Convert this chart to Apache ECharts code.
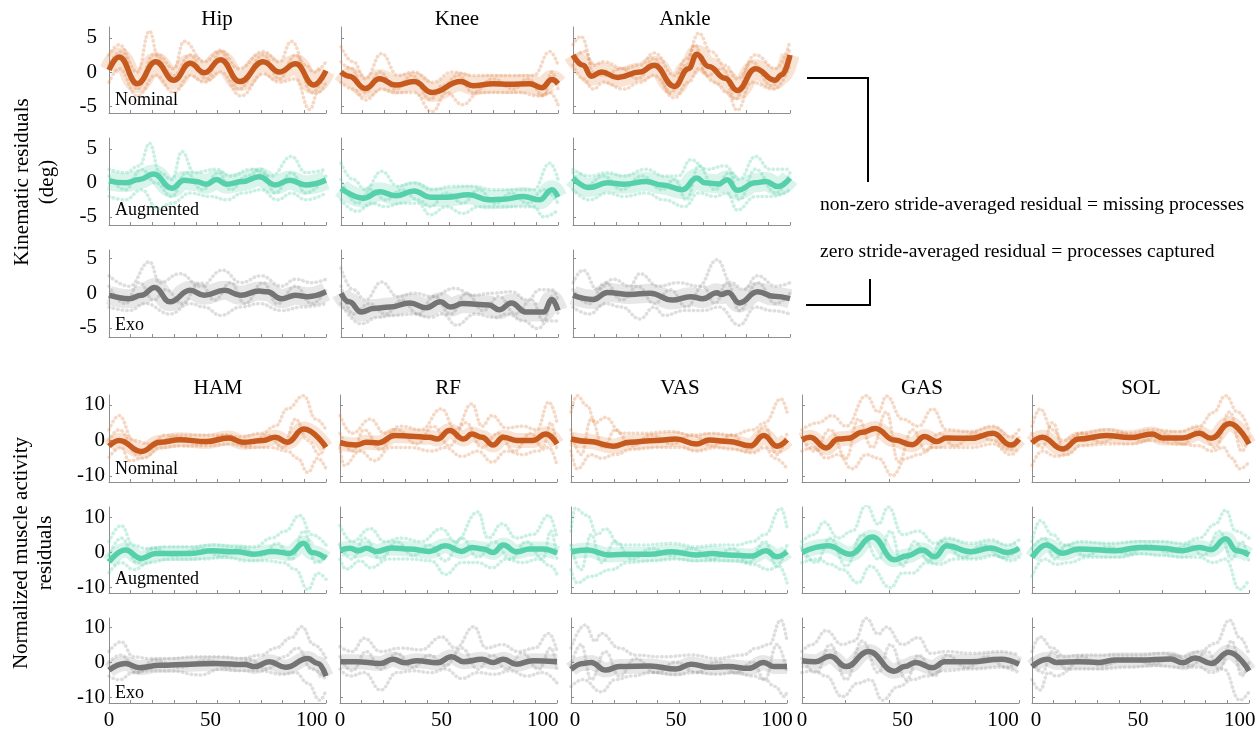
<!DOCTYPE html>
<html>
<head>
<meta charset="utf-8">
<script src="https://cdn.jsdelivr.net/npm/echarts@6/dist/echarts.min.js"></script>
<style>
  html, body { margin: 0; padding: 0; background: #fff; }
  #chart { width: 1260px; height: 731px; }
</style>
</head>
<body>
<div id="chart"></div>
<script>
// ---- categories and tick labels ----
const JOINTS = ['Hip', 'Knee', 'Ankle'];
const MUSCLES = ['HAM', 'RF', 'VAS', 'GAS', 'SOL'];
const MODELS = ['Nominal', 'Augmented', 'Exo'];
const X_TICK_LABELS = [0, 50, 100];
const KIN_Y_TICK_LABELS = [-5, 0, 5];
const EMG_Y_TICK_LABELS = [-10, 0, 10];

// ---- kinematic residuals (deg), x = % gait cycle ----
// stride-averaged residual: [x, y] at turning points
const hipNomMean = [[0,0.3],[5,2.2],[14,-1.7],[23,1.5],[32,-1.2],[40,1.3],[47,-0.1],[55,1.8],[64.5,-1.4],[76,1.5],[84,0],[92,1.2],[101,-1.9],[107,0.2]];
const hipNomStrides = [
  [[0,2.5],[5,4],[14,0],[20,6],[24,2.5],[32,0.5],[37,4.5],[47,1.5],[55,3.2],[64,0.5],[76,3],[84,1.5],[90,4.5],[97,1],[101,0],[107,1.5]],
  [[0,-1.5],[5,0.5],[14,-3.5],[23,-0.5],[32,-3],[40,-0.5],[47,-1.5],[55,0],[65,-3.5],[76,-0.3],[84,-1.5],[92,-1],[99,-5.5],[103,-3],[107,-1.5]],
  [[0,1],[6,3],[14,-2.5],[22,2.5],[32,-0.5],[40,2.5],[48,-1],[55,3],[64,-2.5],[76,2.5],[84,-1],[92,2.5],[100,-3],[107,0]]
];
const hipAugMean = [[0,0.3],[8,0],[15,0.5],[22,1.3],[31,-0.8],[37,0.4],[43,0.2],[48,-0.2],[53,0.5],[58,-0.2],[66,0.2],[74,0.9],[82,-0.3],[89,0.4],[97,-0.3],[107,0.4]];
const hipAugStrides = [
  [[0,2],[8,1.5],[15,2.5],[20,5.8],[25,1.5],[31,0.5],[36,4.6],[42,1.5],[53,2],[60,1],[70,2],[80,1],[90,3.9],[97,1.5],[107,2]],
  [[0,-2],[8,-2.5],[16,-1],[24,-3.8],[31,-3],[40,-1.5],[50,-2],[58,-2.5],[66,-1.5],[75,-1],[83,-2.5],[90,-1.5],[97,-2.5],[107,-1.5]],
  [[0,1],[8,-1],[16,2],[23,0],[31,-2],[38,1.5],[46,-1],[54,1.5],[60,-1],[68,1],[75,2],[82,-1.5],[90,1.5],[97,-1.5],[107,1]]
];
const hipExoMean = [[0,-0.3],[10,-0.8],[16,-0.3],[22.5,0.8],[30,-1.25],[40,0.4],[47,-0.3],[57,0.4],[65,-0.3],[74,0.3],[78,0.2],[85,-0.8],[92,-0.3],[98,-0.5],[107,0.2]];
const hipExoStrides = [
  [[0,2.5],[10,1],[20,4.5],[25,1.5],[35,2.8],[45,1],[56,3.3],[65,1.5],[75,2.5],[85,1],[92,2],[100,1.5],[107,2]],
  [[0,-2],[10,-2.5],[18,-1.5],[30,-3],[40,-1.5],[47,-2],[55,-3.2],[65,-2],[74,-1.5],[85,-2.5],[95,-2],[107,-1.5]],
  [[0,1],[8,-1.5],[15,1.5],[22,-1],[28,0.5],[36,-1.5],[45,1.5],[52,-1],[60,1.5],[67,-1.5],[76,1.5],[83,-1.5],[92,1],[100,-1.5],[107,0.5]]
];

const kneeNomMean = [[0,0],[4,-0.6],[12,-2.4],[19,-1.0],[27,-1.9],[36,-1.4],[45,-3.0],[59,-1.4],[65,-2.0],[75,-1.7],[83,-1.8],[93,-1.7],[99,-2.3],[104,-1.1],[107,-1.7]];
const kneeNomStrides = [
  [[0,3.7],[6,1.5],[12,-1],[20,2.7],[28,-0.5],[36,0],[45,-1.5],[55,0],[65,-0.5],[75,-0.5],[85,-0.5],[95,-0.5],[103,3],[107,1]],
  [[0,-1.5],[6,-2.5],[12,-4.1],[20,-2.5],[28,-3],[36,-3],[45,-5.8],[52,-3],[60,-4.8],[68,-3],[78,-3],[88,-3],[97,-3.5],[103,-3],[107,-4.8]],
  [[0,1.5],[5,0.5],[12,-3],[19,0],[27,-2.5],[35,-0.5],[44,-4],[50,-2],[58,-0.5],[65,-3],[75,-1],[85,-2.5],[92,-1],[100,-3.5],[104,0],[107,-2.5]]
];
const kneeAugMean = [[0,-0.8],[11,-2.25],[19,-1.3],[27,-1.9],[36,-1.2],[44,-2.1],[52,-2.1],[63,-1.75],[73,-2.5],[80,-2.4],[90,-2.0],[98,-2.5],[104,-1.0],[107,-2.1]];
const kneeAugStrides = [
  [[0,2.9],[6,0.5],[12,-1],[20,1.7],[28,-0.5],[36,0],[45,-1],[55,-0.5],[65,-0.5],[75,-1],[85,-1],[95,-1],[103,2.9],[107,0.5]],
  [[0,-2.5],[8,-4.2],[15,-3],[22,-3.5],[30,-3],[38,-3],[44,-4.7],[52,-3.5],[60,-4.5],[68,-3.5],[78,-3.5],[88,-3.5],[95,-3.5],[100,-5],[107,-4]],
  [[0,0.5],[8,-3],[15,-1],[22,-2.5],[30,-1],[38,-2.5],[44,-3.5],[52,-1.5],[60,-3],[68,-1],[76,-3],[84,-1.5],[92,-3],[100,-1],[107,-3]]
];
const kneeExoMean = [[0,0],[4,-1.25],[10,-2.7],[16,-2.2],[24,-2.0],[34,-1.4],[42,-2.1],[49,-1.25],[54,-2.0],[60,-1.5],[73,-1.7],[78,-2.4],[84,-1.4],[91,-2.7],[100,-2.7],[104,-0.9],[107,-2.5]];
const kneeExoStrides = [
  [[0,3.6],[6,0.5],[12,-1],[20,1.6],[28,-0.5],[36,0],[45,-0.5],[56,0.7],[65,-0.3],[75,0],[84,0.2],[92,-1],[98,0.5],[104,0.5],[107,-1]],
  [[0,-1.5],[10,-4.4],[18,-3.5],[26,-3.2],[36,-3],[44,-3.5],[50,-3],[57,-4.6],[66,-3],[76,-3.5],[82,-3],[90,-4],[97,-5.1],[102,-4],[107,-4]],
  [[0,1],[6,-3],[14,-1.5],[22,-3],[30,-1],[38,-3],[46,-0.5],[54,-3],[62,0],[70,-2.5],[78,-0.5],[86,-3],[94,-1],[100,-4],[104,-0.5],[107,-3]]
];

const ankleNomMean = [[0,2.5],[5,1.0],[9,-0.6],[14,0],[22,-0.8],[33,0],[40,1.0],[50,-2.1],[57,0.5],[61,2.6],[67,0.8],[75,-0.9],[81,-2.7],[90,0.5],[99.5,-1.2],[103,-0.4],[107,2.5]];
const ankleNomStrides = [
  [[0,4],[4,5.2],[10,1],[15,1.5],[25,0.5],[33,1],[40,2.8],[50,-0.5],[56,2],[62,5.7],[68,3],[75,1],[81,-1],[90,2.5],[100,0.5],[107,4.5]],
  [[0,1],[5,-1],[10,-2.5],[15,-1.5],[25,-2.5],[33,-1.5],[40,-0.5],[50,-3.8],[57,-1.5],[62,0.5],[70,-1.5],[76,-3],[81,-5.6],[88,-1.5],[99,-2.5],[107,1]],
  [[0,2],[6,3],[10,0],[15,-0.5],[24,0.5],[32,-1],[40,2],[48,-3],[56,1],[60,4],[66,-0.5],[74,0.5],[80,-4],[88,1.5],[98,-2],[107,3.5]]
];
const ankleAugMean = [[0,0.7],[8,-0.7],[17,0],[25,-0.2],[36,0.2],[44,-0.3],[54,-1.0],[61,0.7],[65,0],[72,-0.15],[76,0.45],[81,-1.1],[90,0],[95,0.2],[101,-0.55],[107,0.7]];
const ankleAugStrides = [
  [[0,2],[8,1],[17,1.5],[25,1],[36,2],[45,1],[52,1],[58,3.4],[66,2],[75,2.5],[82,0.5],[90,3.9],[97,2],[107,2]],
  [[0,-1],[8,-2.5],[17,-1.5],[25,-2],[36,-1.5],[45,-2.5],[55,-3.5],[62,-1.5],[70,-2],[76,-1.5],[81,-4],[90,-2],[98,-2],[107,-1]],
  [[0,1.5],[6,-0.5],[15,1],[24,-1],[34,1],[44,-1],[50,0.5],[56,-2.5],[62,2.5],[70,-1],[77,1.5],[82,-2.5],[90,2],[100,-1.5],[107,1.5]]
];
const ankleExoMean = [[0,-0.3],[10,-0.9],[17,0.1],[28,-0.2],[38,0],[49,-1.0],[58,-0.5],[64,-0.8],[71,0.05],[73,-0.2],[76.5,0.1],[82,-1.4],[91,0.2],[99,-0.45],[107,-0.8]];
const ankleExoStrides = [
  [[0,1.5],[5,3.3],[12,0.5],[20,2],[28,1],[33,2.8],[42,1],[52,1.5],[62,1],[71,4.8],[78,1.5],[84,0.5],[91,2.5],[100,1],[107,1.5]],
  [[0,-2],[8,-3],[16,-1.5],[24,-2],[33,-3.7],[40,-2],[45,-3.2],[55,-2.5],[64,-2.5],[72,-2],[82,-4.6],[90,-2],[98,-2.5],[107,-3]],
  [[0,0.5],[8,-1.5],[16,1.5],[24,-1],[32,1],[40,-1.5],[48,0.5],[56,-2],[64,1],[70,-1.5],[76,1.5],[82,-2.5],[91,1.5],[100,-1.5],[107,0]]
];

// ---- normalized muscle activity residuals ----
const hamNomMean = [[0,-1.6],[5,0],[16,-3.1],[25,-0.5],[35,0.2],[48,-0.3],[59,0.7],[66,-0.5],[76,0],[82,0.9],[88,-0.5],[96,3.2],[107,-1.9]];
const hamNomStrides = [
  [[0,3],[5,7],[12,0],[20,-1],[28,1.5],[40,1.5],[55,1.5],[65,1],[75,2],[82,4],[88,8.9],[96,12.6],[102,6],[107,3]],
  [[0,-4.7],[6,-2],[10,-5.7],[17,-5],[25,-2],[35,-1.5],[48,-1.5],[60,-1],[70,-2],[80,-2],[88,-3],[93,-5],[98,-9],[103,-5],[107,-8]],
  [[0,0],[5,3],[14,-4],[22,-1.5],[32,1],[45,-1],[58,1.5],[68,-1.5],[78,1.5],[86,-2],[92,6],[98,0],[104,-4],[107,0]]
];
const hamAugMean = [[0,-2.8],[8,0.6],[16,-1.8],[23,-0.4],[40,-0.4],[51,0.4],[63,0.1],[71,-0.6],[81,0.2],[89,-0.4],[96,2.5],[100,-0.1],[107,-1.8]];
const hamAugStrides = [
  [[0,3],[6,7.6],[12,2],[18,1],[28,1.5],[40,1.5],[52,2],[62,1.5],[72,1.5],[80,4],[87,6],[94,10.5],[100,5],[107,2]],
  [[0,-5.9],[6,-3],[12,-5],[20,-3],[30,-2],[45,-2],[58,-1.5],[68,-2.5],[78,-2.5],[86,-3],[92,-5],[98,-10.7],[103,-6],[107,-7.8]],
  [[0,-1],[6,4],[14,-3],[22,1],[32,-1],[45,1],[55,-1],[65,1],[75,-1],[83,2.5],[90,-2],[96,6],[102,-3],[107,-1]]
];
const hamExoMean = [[0,-2.3],[8,-0.4],[15,-1.6],[25,-0.9],[40,-0.6],[53,-0.4],[67,-0.7],[72,-1.3],[79,0.1],[87,-1.5],[98,1.0],[103,-0.4],[107,-4.0]];
const hamExoStrides = [
  [[0,3],[6,5.8],[12,1.5],[20,1],[30,1],[42,1.5],[55,1.5],[65,1],[75,2],[82,4],[90,7],[95,10.1],[101,5],[107,1]],
  [[0,-4],[5,-5.1],[12,-3],[20,-2.5],[30,-2.5],[45,-3.7],[55,-2],[65,-2.5],[75,-2.5],[85,-3.5],[92,-3],[98,-6],[104,-10.9],[107,-8]],
  [[0,0],[6,2],[14,-3],[22,0.5],[35,-1.5],[48,0.5],[60,-1.5],[70,0.5],[78,-2],[86,1.5],[93,4],[100,-2],[107,-5]]
];

const rfNomMean = [[0,-0.7],[8,-1.3],[13,-0.5],[19,-0.7],[27,1.4],[35,1.2],[44,0.9],[48,0.4],[54,2.8],[61,0.4],[65,1.8],[70,0.9],[75.5,-1.3],[80.5,0.9],[87,0],[95,0],[101.5,1.8],[107,-1.0]];
const rfNomStrides = [
  [[0,7],[6,2],[15,6],[22,2],[30,4],[40,3],[50,8.9],[57,3],[65,10.3],[70,4],[75,7],[82,3.5],[90,4],[97,3],[103,10.8],[107,5]],
  [[0,-2],[2,-7],[10,-3],[17,-5.7],[25,-2],[35,-2],[45,-3],[52,-2],[60,-4.5],[68,-3],[75,-6.1],[82,-3],[90,-4],[97,-3],[103,-2],[107,-7]],
  [[0,2],[6,-3],[12,3],[20,-2.5],[28,3],[38,-1],[46,4],[54,-1.5],[62,5],[70,-2],[78,2],[86,-3],[94,2],[100,-2],[104,5],[107,-3]]
];
const rfAugMean = [[0,0.6],[5,1.1],[9,0.4],[13,1.1],[18,0.2],[25.5,1.2],[34.5,0.9],[44,0.2],[52,1.8],[60,0.2],[65,1.35],[70.5,0.9],[75.5,-0.1],[80.5,2.0],[87,0.1],[93.5,0.9],[100,0.9],[107,-0.3]];
const rfAugStrides = [
  [[0,7.6],[6,3],[15,6.7],[22,3],[30,4],[40,3],[50,6.7],[57,3],[68,11.5],[73,4],[80,8.1],[87,4],[95,5],[103,10.5],[107,4]],
  [[0,-2],[3,-4.9],[10,-2.5],[15,-4.5],[24,-2],[35,-2],[45,-2.5],[52,-6.4],[60,-3],[68,-3],[75,-4.5],[82,-2],[90,-3],[98,-2],[104,-4],[107,-6.4]],
  [[0,2],[6,-2],[12,4],[20,-2],[28,3],[36,-1],[44,2],[52,-2.5],[60,4],[68,-1.5],[76,3],[84,-2],[92,3],[100,-2],[104,6],[107,-2]]
];
const rfExoMean = [[0,0.1],[8,0.1],[20,-0.4],[26,0.8],[32,-0.2],[38,0.4],[48,-0.2],[55,1.5],[61,0.1],[70,0.8],[75.5,-0.1],[80.5,0.8],[87,-0.6],[95,0.4],[107,0.1]];
const rfExoStrides = [
  [[0,4.4],[6,3],[12,6.8],[20,3],[30,4],[40,3.5],[50,7.2],[57,4],[66,10.1],[72,4],[80,5],[88,3],[96,4],[103,8.2],[107,3]],
  [[0,-2],[5,-4],[12,-3],[20,-8],[28,-3],[36,-2.5],[45,-3],[52,-2],[60,-4.7],[68,-3],[76,-3.5],[84,-2.5],[92,-4],[100,-3],[107,-6]],
  [[0,1.5],[6,-2.5],[13,3],[20,-2],[28,2.5],[36,-1.5],[44,2],[52,-1],[60,4],[68,-2],[75,2],[82,-2],[90,2.5],[98,-2],[104,4],[107,-2]]
];

const vasNomMean = [[-2,0.4],[7,-0.3],[19,-1.6],[27,-0.5],[40,0],[50,0.4],[60,-1.0],[66.5,0.1],[76,-0.3],[87,-1.5],[93.5,1.4],[100,-1.6],[105,0.2]];
const vasNomStrides = [
  [[-2,8],[1,12.6],[6,9.8],[10,5],[15,6.5],[23,2],[33,2],[48,2.5],[58,1.5],[68,2],[78,1.5],[88,3],[94,5],[102,11.7],[105,8]],
  [[-2,-3],[1,-8],[8,-4],[13,-5],[20,-4],[28,-2.5],[40,-2],[53,-2],[60,-3],[70,-2],[78,-2.5],[88,-3.5],[94,-2],[99,-5],[105,-8]],
  [[-2,3],[3,-4],[8,6],[14,-2],[20,3],[28,-1.5],[38,1.5],[48,-1],[58,1.5],[68,-1.5],[78,1.5],[86,-2.5],[94,4],[100,-4],[105,2]]
];
const vasAugMean = [[-2,0.1],[6,0.6],[17,-0.8],[27,-0.6],[37,-0.6],[48,0.1],[60,-0.8],[68,-0.4],[76,-0.8],[88,-1.1],[94.5,0.4],[100,-1.3],[105,0.1]];
const vasAugStrides = [
  [[-2,6],[0,12.5],[6,10.5],[11,5],[15,6.7],[22,2],[33,2],[48,2.5],[60,1.5],[70,2],[80,2],[88,3],[94,5],[102,12.5],[105,7]],
  [[-2,-5],[1,-8.8],[8,-6.9],[18,-5],[26,-3],[38,-2.5],[50,-2],[60,-2.5],[70,-2.5],[80,-2.5],[88,-3.5],[96,-5],[101,-4],[105,-8.8]],
  [[-2,2],[3,-5],[8,5],[13,-3],[20,3],[28,-2],[38,1],[48,-1],[58,1],[68,-2],[78,1],[86,-3],[94,3],[100,-4],[105,2]]
];
const vasExoMean = [[-2,-2.1],[4,-0.4],[8,-0.1],[15,-2.3],[22,-1.3],[37,-1.1],[50,-2],[57.5,-0.6],[66.5,-1.5],[76,-1.3],[86,-1.8],[93.5,-0.1],[98.5,-1.3],[105,-1.3]];
const vasExoStrides = [
  [[-2,4],[5,10.6],[10,6],[13,8.2],[22,4],[30,2],[43,1.5],[58,2],[70,1],[83,2],[90,4],[96,5],[102,12],[105,6]],
  [[-2,-7],[4,-5],[13,-8.5],[20,-5],[28,-4],[38,-3],[50,-3.5],[60,-3],[70,-3.5],[80,-3],[88,-4],[94,-5],[99,-7],[104,-9.9],[105,-8]],
  [[-2,-1],[3,5],[8,-5],[15,3],[22,-4],[30,1],[40,-3],[50,0],[60,-3],[70,0],[80,-3],[88,0],[94,-5],[100,5],[105,-3]]
];

const gasNomMean = [[0,0.2],[4,0.9],[12,-2.1],[18,0.4],[23,0.6],[30,2.3],[36.5,3.4],[46,0.1],[55,-1.2],[61,1.1],[67,-0.3],[72,0.7],[84,0.6],[95,2.0],[104,-1.3],[108,0.4]];
const gasNomStrides = [
  [[0,3],[8,5],[15,7],[22,4],[32,12.6],[38,8],[42,12.5],[50,6],[58,4],[65,8.9],[72,3],[84,2.5],[95,4],[104,1],[108,3]],
  [[0,-3],[6,-2],[12,-5],[18,-4],[25,-8],[32,-4],[38,-5],[45,-9.9],[52,-5],[58,-4],[65,-2],[72,-2],[84,-2],[95,-1],[104,-4],[108,-2]],
  [[0,1],[6,-3],[14,3],[22,-5],[28,6],[35,-2],[42,8],[48,-6],[55,3],[62,-3],[68,2],[76,-1.5],[86,2],[95,0],[104,-2.5],[108,1]]
];
const gasAugMean = [[0,-0.1],[13,1.8],[24,-0.6],[35,4.3],[46,-2.2],[52,-1.1],[60,0.6],[66,-1.35],[72,1.8],[84,0.1],[94,1.2],[102,-0.1],[108,1.1]];
const gasAugStrides = [
  [[0,3],[6,5],[11,8.6],[18,4],[25,6],[32,13.4],[38,8],[43,12.9],[50,5],[58,6],[66,2.5],[72,4],[84,2.5],[94,3.5],[102,2],[108,3.5]],
  [[0,-3],[8,-2],[14,-3.5],[20,-5],[28,-8.8],[34,-4],[44,-10.2],[50,-6],[55,-6],[62,-3],[68,-3.5],[76,-2],[86,-2],[96,-1],[104,-2.5],[108,-1.5]],
  [[0,1],[7,-3],[14,4],[22,-4],[30,5],[38,-2],[44,6],[50,-4],[56,3],[63,-2.5],[70,3],[80,-1.5],[90,2],[100,-1.5],[108,1]]
];
const gasExoMean = [[0,0.4],[6.5,0.1],[14,1.7],[22,-1.3],[33,3.0],[46,-2.6],[51,-1.3],[56.5,-0.1],[65,-1.6],[71,0.1],[84,0.1],[99,0.8],[108,-0.6]];
const gasExoStrides = [
  [[0,3],[5,5],[12,9],[20,5],[26,6],[32,12.5],[38,8],[42,10],[50,5],[58,7],[64,2.5],[72,3],[84,2.5],[99,3],[108,2]],
  [[0,-3],[6,-2.5],[12,-4],[20,-9.9],[28,-6],[34,-5],[40,-10.9],[48,-7],[55,-5],[62,-4],[70,-2.5],[84,-2],[99,-1.5],[108,-3]],
  [[0,1],[7,-3],[14,5],[22,-5],[30,6],[38,-3],[44,5],[52,-5],[58,2],[66,-4],[72,2],[82,-1.5],[92,1.5],[102,-1.5],[108,0.5]]
];

const solNomMean = [[-2,-0.7],[3,0.9],[13,-2.4],[21,0.4],[34.5,1.4],[46,0.8],[57,1.8],[62,0.7],[72,0.7],[80,2.0],[86,0.6],[95,4.8],[104.5,-1.0]];
const solNomStrides = [
  [[-2,4],[2,8.9],[8,3],[13,0],[22,2],[35,3],[46,2],[57,3],[70,2.5],[80,4],[87,7.9],[93,12.6],[99,8],[104.5,3]],
  [[-2,-7],[3,-3],[10,-4.5],[15,-4],[22,-1.5],[35,-1],[46,-1],[57,0],[70,-1],[80,-1.5],[86,-3],[92,-2],[96,-5],[100,-8],[104.5,-6]],
  [[-2,2],[3,-2],[8,5],[14,-3],[22,2],[32,-0.5],[42,2],[52,0],[62,2],[72,-1],[80,3],[88,-2],[95,8],[101,-3],[104.5,1]]
];
const solAugMean = [[-2,-1.55],[5,2.0],[13,-0.3],[21,0.9],[39,0.4],[51,1.35],[62,1.1],[72,0.4],[80,1.35],[86,0.7],[93,3.8],[98.5,0.4],[104.5,-0.8]];
const solAugStrides = [
  [[-2,3],[2,9],[8,5],[14,2],[22,3],[35,2.5],[50,3],[62,3],[72,2.5],[80,4],[88,8],[93,12],[98,6],[104.5,4]],
  [[-2,-6.9],[4,-2],[10,-3.5],[16,-3],[25,-1.5],[40,-1.5],[52,-0.5],[62,-1],[72,-1.5],[80,-1.5],[87,-3],[93,-2],[100,-10.7],[104.5,-7.8]],
  [[-2,1],[4,4],[9,-2],[15,2],[24,-1],[35,1.5],[45,-0.5],[55,2],[65,0],[75,2],[82,-1],[90,6],[96,-2],[101,3],[104.5,-3]]
];
const solExoMean = [[-2,-1.3],[5.5,0.8],[10,-0.1],[21,0.1],[31,-0.1],[39,0.6],[51,0.6],[66,0.9],[72,-0.2],[78,1.2],[86,-0.4],[94.5,2.8],[104.5,-2.5]];
const solExoStrides = [
  [[-2,3],[2,7.2],[8,4],[14,1.5],[22,2],[35,2],[50,2],[62,2.5],[72,1.5],[80,3],[88,5.3],[95,12],[100,7],[104.5,2]],
  [[-2,-5],[2,-8],[6,-3],[10,-4],[18,-2],[30,-2],[45,-1.5],[58,-1],[70,-1.5],[80,-1.5],[86,-3],[92,-2],[100,-10.9],[104.5,-8.5]],
  [[-2,1],[3,-3],[8,3],[15,-2],[22,1.5],[32,-1],[45,1],[58,-0.5],[68,2],[76,-1],[84,3],[90,-2],[96,6],[101,-4],[104.5,0]]
];

// ---- panel lookup (rows = model, columns = joint / muscle) ----
const KIN_PANELS = [
  [[hipNomMean, hipNomStrides], [kneeNomMean, kneeNomStrides], [ankleNomMean, ankleNomStrides]],
  [[hipAugMean, hipAugStrides], [kneeAugMean, kneeAugStrides], [ankleAugMean, ankleAugStrides]],
  [[hipExoMean, hipExoStrides], [kneeExoMean, kneeExoStrides], [ankleExoMean, ankleExoStrides]]
];
const EMG_PANELS = [
  [[hamNomMean, hamNomStrides], [rfNomMean, rfNomStrides], [vasNomMean, vasNomStrides], [gasNomMean, gasNomStrides], [solNomMean, solNomStrides]],
  [[hamAugMean, hamAugStrides], [rfAugMean, rfAugStrides], [vasAugMean, vasAugStrides], [gasAugMean, gasAugStrides], [solAugMean, solAugStrides]],
  [[hamExoMean, hamExoStrides], [rfExoMean, rfExoStrides], [vasExoMean, vasExoStrides], [gasExoMean, gasExoStrides], [solExoMean, solExoStrides]]
];

// ---- styling / layout ----
const SERIF = '"Liberation Serif", "DejaVu Serif", serif';
const PALETTE = {
  Nominal:   { main: '#C65A1E', faint: 'rgba(222,128,66,0.30)', halo: 'rgba(222,128,66,0.22)' },
  Augmented: { main: '#56D0AA', faint: 'rgba(86,208,170,0.32)', halo: 'rgba(86,208,170,0.23)' },
  Exo:       { main: '#747474', faint: 'rgba(128,128,128,0.26)', halo: 'rgba(128,128,128,0.19)' }
};
const AXIS_GREY = '#8e8e8e';

const KIN_COLS = [{ left: 109, width: 217, x: [0, 107] }, { left: 341, width: 217, x: [0, 107] }, { left: 573, width: 217, x: [0, 107] }];
const KIN_ROWS = [{ top: 27, height: 86, y: [-6.0, 6.6] }, { top: 138, height: 87, y: [-6.2, 6.6] }, { top: 250, height: 87, y: [-6.3, 6.2] }];
const EMG_COLS = [
  { left: 109, width: 217, x: [0, 107], nTick: 10 },
  { left: 340, width: 217, x: [0, 107], nTick: 10 },
  { left: 571, width: 216, x: [-2, 105], nTick: 10 },
  { left: 802, width: 217, x: [0, 108], nTick: 5 },
  { left: 1032, width: 217, x: [-2, 104.5], nTick: 5 }
];
const EMG_ROWS = [{ top: 395, height: 87, y: [-11.7, 12.8] }, { top: 507, height: 86, y: [-11.7, 12.9] }, { top: 618, height: 85, y: [-11.7, 12.6] }];

function evenTicks(min, max, n) {
  const out = [];
  for (let i = 0; i <= n; i++) out.push(min + (max - min) * i / n);
  return out;
}

const grid = [], xAxis = [], yAxis = [], series = [];

function addPanel(col, row, model, mean, strides, opts) {
  const gi = grid.length;
  const pal = PALETTE[model];
  grid.push({ left: col.left, top: row.top, width: col.width, height: row.height });
  xAxis.push({
    type: 'value', gridIndex: gi, min: col.x[0], max: col.x[1],
    axisLine: { show: true, onZero: false, lineStyle: { color: AXIS_GREY, width: 1 } },
    axisTick: { show: true, inside: true, length: 3, lineStyle: { color: AXIS_GREY }, customValues: evenTicks(col.x[0], col.x[1], opts.nTick) },
    axisLabel: { show: opts.xLabels, customValues: X_TICK_LABELS, color: '#000', fontFamily: SERIF, fontSize: 21, margin: 7 },
    splitLine: { show: false }
  });
  yAxis.push({
    type: 'value', gridIndex: gi, min: row.y[0], max: row.y[1],
    axisLine: { show: true, onZero: false, lineStyle: { color: AXIS_GREY, width: 1 } },
    axisTick: { show: true, inside: true, length: 3, lineStyle: { color: AXIS_GREY }, customValues: opts.yTicks },
    axisLabel: { show: opts.yLabels, customValues: opts.yTicks, color: '#000', fontFamily: SERIF, fontSize: 21, margin: opts.yMargin },
    splitLine: { show: false }
  });
  const common = { type: 'line', xAxisIndex: gi, yAxisIndex: gi, smooth: 0.45, smoothMonotone: 'x', showSymbol: false, silent: true, animation: false };
  // individual strides: chains of faint dots
  strides.forEach(s => series.push(Object.assign({}, common, {
    data: s, z: 1, lineStyle: { color: pal.faint, width: 3.5, type: [0.5, 4], cap: 'round' }
  })));
  series.push(Object.assign({}, common, { data: mean, z: 2, lineStyle: { color: pal.halo, width: opts.halo } }));
  series.push(Object.assign({}, common, { data: mean, z: 3, lineStyle: { color: pal.main, width: 5.5 } }));
}

MODELS.forEach((model, r) => {
  JOINTS.forEach((joint, c) => {
    const [mean, strides] = KIN_PANELS[r][c];
    addPanel(KIN_COLS[c], KIN_ROWS[r], model, mean, strides, {
      nTick: 10, xLabels: false, yLabels: c === 0, yTicks: KIN_Y_TICK_LABELS, yMargin: 12, halo: 19
    });
  });
});
MODELS.forEach((model, r) => {
  MUSCLES.forEach((muscle, c) => {
    const [mean, strides] = EMG_PANELS[r][c];
    const col = EMG_COLS[c];
    addPanel(col, EMG_ROWS[r], model, mean, strides, {
      nTick: (c === 4 && r === 2) ? 10 : col.nTick,
      xLabels: r === 2, yLabels: c === 0, yTicks: EMG_Y_TICK_LABELS, yMargin: 4, halo: 15
    });
  });
});

// ---- text and annotation graphics ----
const graphic = [];
function text(str, x, y, size, align, rotation) {
  graphic.push({
    type: 'text', x: x, y: y, rotation: rotation || 0, silent: true,
    style: { text: str, font: size + 'px ' + SERIF, fill: '#000', align: align, verticalAlign: 'middle', textAlign: align, textVerticalAlign: 'middle' }
  });
}
const KIN_TITLE_X = [217, 457, 685];
JOINTS.forEach((j, i) => text(j, KIN_TITLE_X[i], 19, 21, 'center'));
const EMG_TITLE_X = [218, 448, 680, 922, 1141];
MUSCLES.forEach((m, i) => text(m, EMG_TITLE_X[i], 388, 21, 'center'));

const KIN_MODEL_Y = [100, 210, 325];
const EMG_MODEL_Y = [469, 579, 693];
MODELS.forEach((m, i) => { text(m, 115, KIN_MODEL_Y[i], 18, 'left'); text(m, 115, EMG_MODEL_Y[i], 18, 'left'); });

text('Kinematic residuals', 22, 182, 21, 'center', Math.PI / 2);
text('(deg)', 47, 182, 21, 'center', Math.PI / 2);
text('Normalized muscle activity', 21, 553, 21, 'center', Math.PI / 2);
text('residuals', 45, 553, 21, 'center', Math.PI / 2);

text('non-zero stride-averaged residual = missing processes', 820, 205, 19.6, 'left');
text('zero stride-averaged residual = processes captured', 820, 252, 19.6, 'left');

graphic.push({ type: 'polyline', silent: true, shape: { points: [[807, 78], [868, 78], [868, 182]] }, style: { stroke: '#000', lineWidth: 2, fill: null } });
graphic.push({ type: 'polyline', silent: true, shape: { points: [[870, 279], [870, 305], [806, 305]] }, style: { stroke: '#000', lineWidth: 2, fill: null } });

const chart = echarts.init(document.getElementById('chart'), null, { renderer: 'canvas' });
chart.setOption({
  animation: false,
  backgroundColor: '#fff',
  grid: grid,
  xAxis: xAxis,
  yAxis: yAxis,
  series: series,
  graphic: graphic
});
</script>
</body>
</html>
